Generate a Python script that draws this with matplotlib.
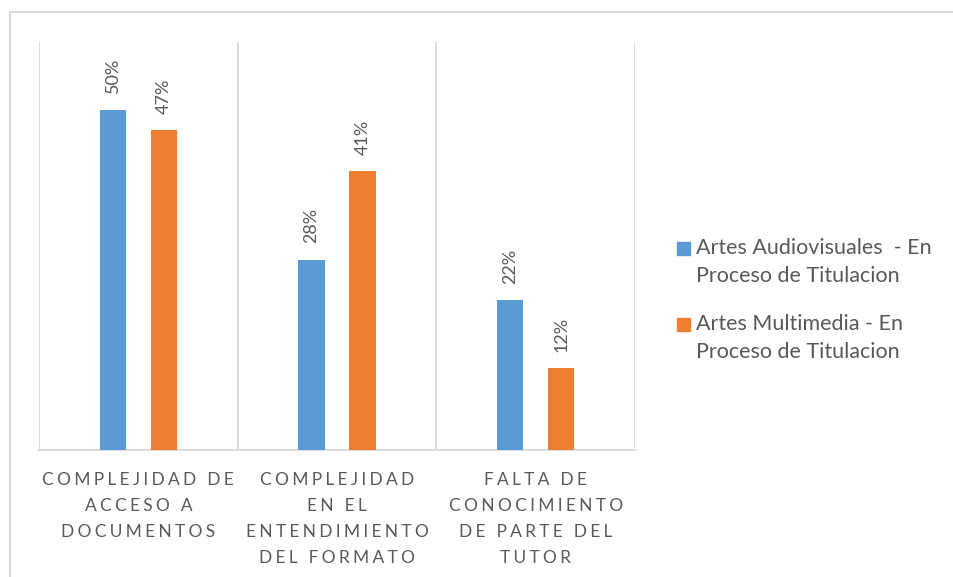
import matplotlib.pyplot as plt
from matplotlib.patches import Rectangle
import numpy as np

plt.rcParams['font.family'] = ['Lato', 'DejaVu Sans']

categories = ['COMPLEJIDAD DE\nACCESO A\nDOCUMENTOS',
              'COMPLEJIDAD\nEN EL\nENTENDIMIENTO\nDEL FORMATO',
              'FALTA DE\nCONOCIMIENTO\nDE PARTE DEL\nTUTOR']
series_names = ['Artes Audiovisuales  - En\nProceso de Titulacion',
                'Artes Multimedia - En\nProceso de Titulacion']
audiovisuales = [50, 28, 22]
multimedia = [47, 41, 12]
colors = ['#5B9BD5', '#ED7D31']
text_color = '#595959'
grid_color = '#D9D9D9'


def spaced(label):
    # imitate Excel's letter spacing on category labels
    gap = '\u2009\u200a'
    lines = []
    for line in label.split('\n'):
        words = [gap.join(w) for w in line.split(' ')]
        lines.append((gap + ' ' + gap).join(words))
    return '\n'.join(lines)


fig = plt.figure(figsize=(9.54, 5.77), dpi=100)
ax = fig.add_axes([39 / 954, 1 - 450 / 577, (635 - 39) / 954, (450 - 42) / 577])

x = np.arange(len(categories))
w = 0.133
off = 0.128
for vals, dx, c in [(audiovisuales, -off, colors[0]), (multimedia, off, colors[1])]:
    bars = ax.bar(x + dx, vals, width=w, color=c, zorder=3)
    for b, v in zip(bars, vals):
        ax.annotate(f'{v}%', (b.get_x() + b.get_width() / 2, v),
                    xytext=(0, 12), textcoords='offset points',
                    rotation=90, ha='center', va='bottom',
                    fontsize=13, color=text_color)

ax.set_xlim(-0.5, 2.5)
ax.set_ylim(0, 60)
ax.set_yticks([])
ax.set_xticks(x)
ax.set_xticklabels([spaced(c) for c in categories], fontsize=12.5,
                   color=text_color, linespacing=1.77)
ax.set_xticks(np.arange(-0.5, 3, 1), minor=True)
ax.tick_params(axis='x', which='both', length=0, pad=15.5)
ax.grid(True, which='minor', axis='x', color=grid_color, linewidth=1.3)
for s in ['top', 'left', 'right']:
    ax.spines[s].set_visible(False)
ax.spines['bottom'].set_color(grid_color)
ax.spines['bottom'].set_linewidth(1.3)

# legend drawn by hand so the marker sits on the first line
legend_tops = [241, 317]
for name, c, top in zip(series_names, colors, legend_tops):
    fig.patches.append(Rectangle((677 / 954, 1 - (top + 14) / 577), 13 / 954, 13 / 577,
                                 transform=fig.transFigure, color=c))
    fig.text(696 / 954, 1 - (top - 3) / 577, name, fontsize=15.5, color=text_color,
             va='top', ha='left', linespacing=1.5)

# chart border
fig.patches.append(Rectangle((10 / 954, -0.1), 1.2, 1.1 - 12 / 577,
                             transform=fig.transFigure, fill=False,
                             edgecolor=grid_color, linewidth=1.5))

fig.savefig('out.png', dpi=100)
